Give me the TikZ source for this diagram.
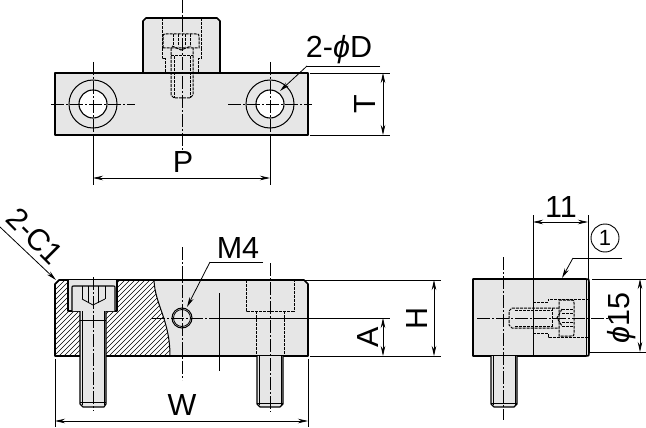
\documentclass[tikz,border=0pt]{standalone}
\usepackage{fontspec}
\setmainfont{Liberation Sans}
\usetikzlibrary{arrows.meta}
\definecolor{partgrey}{HTML}{E6E6E6}
\tikzset{
  x=1pt,y=-1pt,
  outline/.style={draw=black,line width=1.6pt,line join=round},
  body/.style={outline,fill=partgrey},
  thinl/.style={draw=black,line width=0.8pt},
  hiddenl/.style={draw=black,line width=1pt,dash pattern=on 3pt off 1pt},
  centerl/.style={draw=black,line width=0.8pt,dash pattern=on 13pt off 2pt on 2pt off 2pt},
  dimline/.style={thinl,{Stealth[length=10pt,width=4.5pt]}-{Stealth[length=10pt,width=4.5pt]}},
  leaderl/.style={thinl,-{Stealth[length=10pt,width=4.5pt]}},
  lbl/.style={font=\fontsize{30.5}{32}\selectfont,inner sep=0pt},
}
\begin{document}
\begin{tikzpicture}
\useasboundingbox (0,0) rectangle (646,428);
\fill[white] (0,0) rectangle (646,428);

%% ---------- top view ----------
\draw[body] (143,73) -- (143,21) -- (146,18) -- (217,18) -- (220,21) -- (220,73);
\draw[line width=2pt] (146,18) -- (217,18);
\draw[body] (55,73) rectangle (308,135);
% hidden screw
\draw[hiddenl] (162,18) -- (162,48) (201,18) -- (201,48);
\draw[hiddenl] (163,48) -- (163,37) .. controls (163,34) .. (166,34) -- (196,34) .. controls (199,34) .. (199,37) -- (199,48) -- cycle;
\draw[hiddenl] (173,34) -- (173,46) (178,34) -- (178,46) (185,34) -- (185,46) (190,34) -- (190,46);
\draw[hiddenl] (172,46) -- (181,50) -- (191,46);
\draw[hiddenl] (162,48) -- (162,59) -- (165,59) -- (165,73);
\draw[hiddenl] (201,48) -- (201,59) -- (198,59) -- (198,73);
\draw[hiddenl] (171,48) -- (171,95) -- (174,98) -- (190,98) -- (193,95) -- (193,48);
\draw[hiddenl] (174,56) -- (174,98) (190,56) -- (190,98) (171,56) -- (193,56);
% holes
\foreach \cx/\nm in {93/a,270/b}{
  \draw[thinl,line width=1pt] (\cx,104) circle[radius=24];
  \draw[outline,line width=1.1pt,fill=white] (\cx,104) circle[radius=14];
  \draw[centerl] (\cx,62) -- (\cx,135);
}
\draw[centerl] (51,104) -- (135,104);
\draw[centerl] (228,104) -- (312,104);
\draw[centerl] (182,0) -- (182,150);
% P
\coordinate (pL) at (93,178); \coordinate (pR) at (270,178);
\draw[thinl] (93,135) -- (93,185) (270,135) -- (270,185);
\draw[dimline] (pL) -- (pR);
\node[lbl] (P) at (183,162) {P};
% T
\draw[thinl] (310,73) -- (390,73) (310,135) -- (390,135);
\draw[dimline] (383,73) -- (383,135);
\node[lbl,rotate=90] (T) at (365,104) {T};
% 2-phi D
\node[lbl] (phiD) at (339,50) {2-\textit{ϕ}D};
\coordinate (d1) at (380,66); \coordinate (d2) at (307,66); \coordinate (d3) at (280,91);
\draw[thinl] (d1) -- (d2);
\draw[leaderl] (d2) -- (d3);

%% ---------- front view ----------
\fill[partgrey] (59,280) -- (304,280) -- (308,284) -- (308,356) -- (55,356) -- (55,284) -- cycle;
% sectioned part
\fill[white] (59,280) -- (154,280) .. controls (155,305) and (170,320) .. (170,356) -- (55,356) -- (55,284) -- cycle;
\begin{scope}
  \clip (59,280) -- (154,280) .. controls (155,305) and (170,320) .. (170,356) -- (55,356) -- (55,284) -- cycle;
  \foreach \k in {330,335,...,530}{
    \draw[black,line width=0.5pt] (\k-400,400) -- (\k-200,200);
  }
\end{scope}
\draw[outline] (59,280) -- (304,280) -- (308,284) -- (308,356) -- (55,356) -- (55,284) -- cycle;
\draw[thinl,line width=1pt] (154,280) .. controls (155,305) and (170,320) .. (170,356);
% left counterbore and screw
\draw[outline,line width=1.2pt,fill=partgrey] (68,280) -- (68,311) -- (117,311) -- (117,280);
\draw[outline,line width=1.2pt,fill=partgrey] (72,311) -- (72,288) .. controls (72,286) .. (74,286) -- (113,286) .. controls (115,286) .. (115,288) -- (115,311);
\draw[thinl] (82,286) -- (82,299) (88,286) -- (88,303) (98,286) -- (98,303) (105,286) -- (105,299);
\draw[thinl] (82,299) -- (93,305) -- (105,299);
\draw[outline,line width=1.2pt,fill=partgrey] (80,311) -- (80,404) -- (83,407) -- (104,407) -- (106,404) -- (106,311);
\draw[thinl] (82,311) -- (82,405) (104,311) -- (104,405) (80,320) -- (106,320) (80,402) -- (106,402);
\draw[centerl] (93,277) -- (93,411);
% right counterbore and stud
\draw[hiddenl] (246,280) -- (246,311) -- (294,311) -- (294,280);
\draw[hiddenl] (256,311) -- (256,356) (284,311) -- (284,356);
\draw[outline,line width=1.2pt,fill=partgrey] (257,356) -- (257,404) -- (260,407) -- (280,407) -- (283,404) -- (283,356);
\draw[thinl] (259,356) -- (259,405) (281,356) -- (281,405) (257,403) -- (283,403);
\draw[centerl] (270,263) -- (270,412);
% M4 hole
\draw[thinl,line width=1pt] (182,318) circle[radius=10];
\draw[thinl] (182,318) circle[radius=8.5];
\draw[centerl] (182,247) -- (182,380);
\draw[centerl] (152,318) -- (219,318);
\draw[thinl] (219,318) -- (390,318);
\draw[thinl] (219,293) -- (219,371);
% M4 label
\node[lbl] (M) at (238,248) {M4};
\coordinate (m1) at (263,262); \coordinate (m2) at (210,262); \coordinate (m3) at (187,307);
\draw[thinl] (m1) -- (m2);
\draw[leaderl] (m2) -- (m3);
% 2-C1
\node[lbl,rotate=-45] (C) at (35,236) {2-C1};
\coordinate (c1) at (0,227); \coordinate (c2) at (56,280);
\draw[leaderl] (c1) -- (c2);
% H, A
\draw[thinl] (305,280) -- (441,280) (310,356) -- (441,356);
\draw[dimline] (434,280) -- (434,356);
\draw[dimline] (383,318) -- (383,356);
\node[lbl,rotate=90] (H) at (417,318) {H};
\node[lbl,rotate=90] (A) at (368,337) {A};
% W
\draw[thinl] (55,359) -- (55,427) (308,359) -- (308,427);
\draw[dimline] (55,421) -- (308,421);
\node[lbl] (W) at (182,405) {W};

%% ---------- side view ----------
\draw[body] (473,279) -- (586,279) .. controls (589,279) .. (589,282) -- (589,353) .. controls (589,356) .. (586,356) -- (473,356) -- cycle;
\draw[outline,line width=1pt] (533,279) -- (533,356);
\draw[thinl] (586.5,279) -- (586.5,356);
\draw[outline,line width=1.2pt,fill=partgrey] (491,356) -- (491,404) -- (494,407) -- (514,407) -- (517,404) -- (517,356);
\draw[thinl] (493,356) -- (493,405) (515,356) -- (515,405) (491,403) -- (517,403);
% hidden screw
\draw[hiddenl] (533,302) -- (548,302) -- (548,299) -- (588,299);
\draw[hiddenl] (533,333) -- (548,333) -- (548,337) -- (588,337);
\draw[hiddenl] (559,308) -- (512,308) -- (509,311) -- (509,325) -- (512,328) -- (559,328);
\draw[hiddenl] (515,310) -- (552,310) (515,326) -- (552,326);
\draw[hiddenl] (552,308) -- (552,328);
\draw[hiddenl] (559,300) -- (571,300) .. controls (574,300) .. (574,303) -- (574,333) .. controls (574,336) .. (571,336) -- (559,336) -- cycle;
\draw[hiddenl] (562,313) -- (574,313) (562,322) -- (574,322) (562,326) -- (574,326) (562,309) -- (574,309);
\draw[hiddenl] (562,309) -- (557,318) -- (562,326);
\draw[centerl] (477,318) -- (608,318);
\draw[centerl] (503,257) -- (503,420);
% 11
\draw[thinl] (533,215) -- (533,279) (588,215) -- (588,279);
\draw[dimline] (533,222) -- (588,222);
\node[lbl] (e) at (561,207) {11};
% circled 1
\node[draw=black,line width=0.9pt,circle,minimum size=28pt,inner sep=0pt,font=\fontsize{22}{24}\selectfont] (one) at (605,238) {1};
\coordinate (o1) at (622,258); \coordinate (o2) at (573,258); \coordinate (o3) at (562,278);
\draw[thinl] (o1) -- (o2);
\draw[leaderl] (o2) -- (o3);
% phi 15
\draw[thinl] (592,279) -- (646,279) (590,352) -- (646,352);
\draw[dimline] (640,279) -- (640,352);
\node[lbl,rotate=90] (f) at (622,318) {\textit{ϕ}15};
\end{tikzpicture}
\end{document}
